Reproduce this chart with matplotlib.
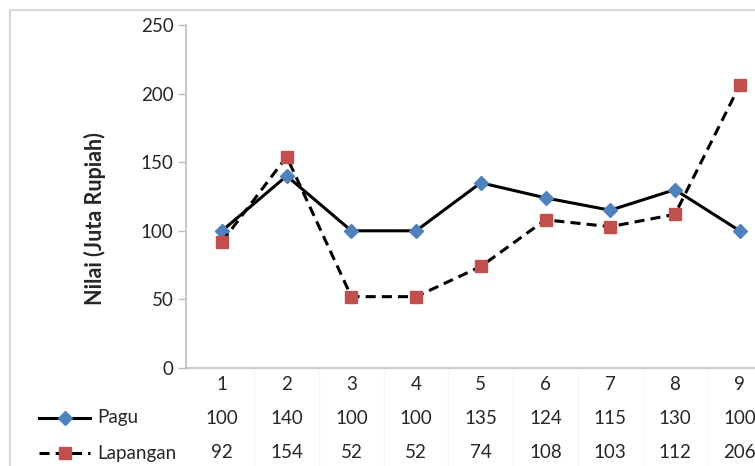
"""
Pagu vs Lapangan line chart with an Excel-style data table underneath.
"""
import matplotlib
matplotlib.use("Agg")
import matplotlib.pyplot as plt
from matplotlib.lines import Line2D
from matplotlib.patches import Rectangle
from matplotlib.transforms import blended_transform_factory

# data
categories = [1, 2, 3, 4, 5, 6, 7, 8, 9]
pagu = [100, 140, 100, 100, 135, 124, 115, 130, 100]
lapangan = [92, 154, 52, 52, 74, 108, 103, 112, 206]
series_names = ["Pagu", "Lapangan"]

W, H = 755, 466
plt.rcParams["font.family"] = ["Lato", "DejaVu Sans"]
text_color = "#262626"
grey = "#BFBFBF"
blue = "#4F81BD"
red = "#C0504D"
fs = 13.5

fig = plt.figure(figsize=(W / 100, H / 100), dpi=100)

# outer chart border (cropped on right/bottom like the source)
fig.add_artist(Rectangle((10 / W, -0.1), 1.2, 1 - 10 / H + 0.1,
                         transform=fig.transFigure, fill=False,
                         edgecolor="#D9D9D9", linewidth=1.5))

# plot area, pixel-placed
px_left, px_right = 186, 772
px_top, px_bot = 25, 368
ax = fig.add_axes([px_left / W, 1 - px_bot / H,
                   (px_right - px_left) / W, (px_bot - px_top) / H])
ax.set_xlim(0.444, 9.5)
ax.set_ylim(0, 250)

ax.plot(categories, pagu, color="black", linewidth=2.2,
        marker="D", markersize=7, markerfacecolor=blue,
        markeredgecolor=blue, zorder=3, clip_on=False)
ax.plot(categories, lapangan, color="black", linewidth=2.2,
        dashes=(3.3, 2), marker="s", markersize=9,
        markerfacecolor=red, markeredgecolor=red, zorder=3, clip_on=False)

for s in ["top", "right"]:
    ax.spines[s].set_visible(False)
for s in ["left", "bottom"]:
    ax.spines[s].set_color(grey)
    ax.spines[s].set_linewidth(1.2)

ax.set_yticks(range(0, 251, 50))
ax.tick_params(axis="y", direction="out", length=6, width=1, color=grey,
               labelsize=fs, labelcolor=text_color, pad=3)
ax.set_xticks([])

fig.text(95 / W, 1 - 219 / H, "Nilai (Juta Rupiah)", rotation=90,
         ha="center", va="center", fontsize=15.5, fontweight="bold",
         color=text_color)

# data table
tr = blended_transform_factory(ax.transData, fig.transFigure)
row_y = [385, 418, 453]
for c in categories:
    ax.text(c, 1 - row_y[0] / H, str(c), transform=tr, ha="center",
            va="center", fontsize=fs, color=text_color, clip_on=False)
for c, v in zip(categories, pagu):
    ax.text(c, 1 - row_y[1] / H, str(v), transform=tr, ha="center",
            va="center", fontsize=fs, color=text_color, clip_on=False)
for c, v in zip(categories, lapangan):
    ax.text(c, 1 - row_y[2] / H, str(v), transform=tr, ha="center",
            va="center", fontsize=fs, color=text_color, clip_on=False)

# very faint table cell separators
for c in categories:
    ax.plot([c + 0.5, c + 0.5], [1 - 372 / H, 0], transform=tr,
            color="#F6F6F6", linewidth=1, clip_on=False, zorder=0)

# legend keys in the table rows
ov = fig.add_axes([0, 0, 1, 1], facecolor="none")
ov.set_xlim(0, W)
ov.set_ylim(H, 0)
ov.axis("off")
ov.add_line(Line2D([39, 90], [row_y[1], row_y[1]], color="black",
                   linewidth=2.2))
ov.add_line(Line2D([65], [row_y[1]], marker="D", markersize=7,
                   markerfacecolor=blue, markeredgecolor=blue,
                   linestyle="none"))
ov.add_line(Line2D([39, 90], [row_y[2], row_y[2]], color="black",
                   linewidth=2.2, dashes=(3.3, 2)))
ov.add_line(Line2D([65], [row_y[2]], marker="s", markersize=9,
                   markerfacecolor=red, markeredgecolor=red,
                   linestyle="none"))
ov.text(97, row_y[1], series_names[0], ha="left", va="center",
        fontsize=fs, color=text_color)
ov.text(97, row_y[2], series_names[1], ha="left", va="center",
        fontsize=fs, color=text_color)

fig.savefig("out.png", dpi=100)
